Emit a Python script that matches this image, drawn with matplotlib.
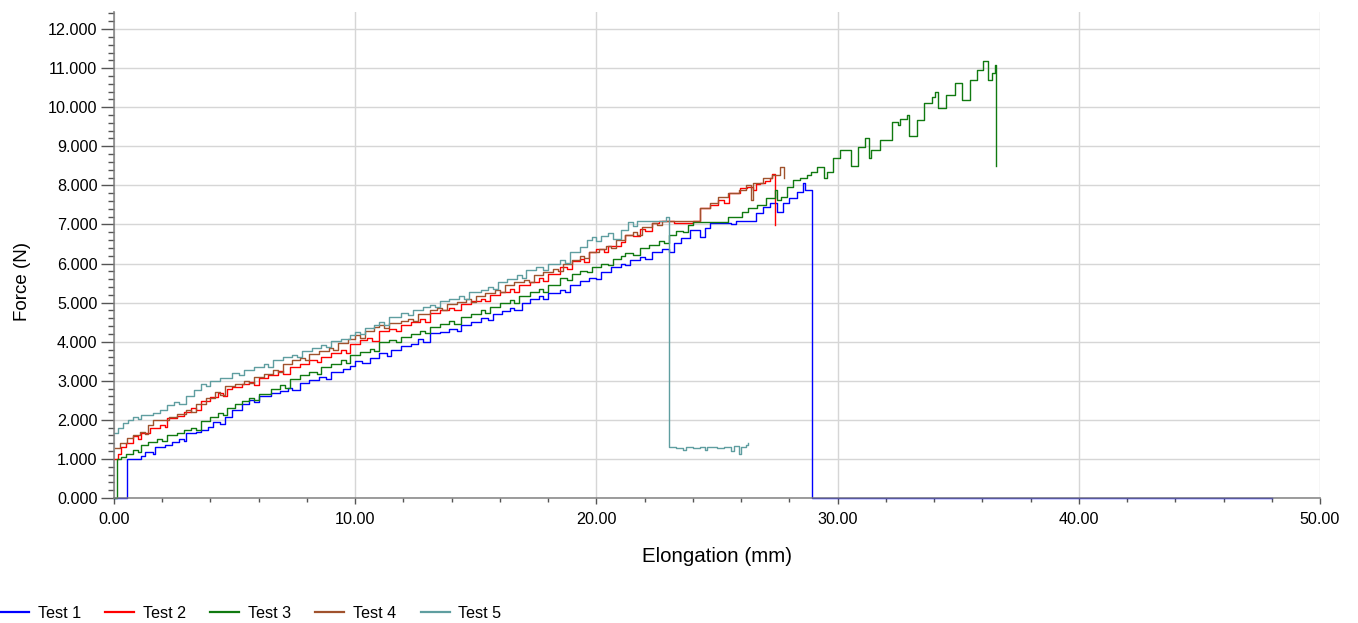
import matplotlib
matplotlib.use('Agg')
import matplotlib.pyplot as plt
from matplotlib.ticker import MultipleLocator, FuncFormatter

plt.rcParams['font.family'] = ['Liberation Sans', 'DejaVu Sans']

series_names = ['Test 1', 'Test 2', 'Test 3', 'Test 4', 'Test 5']
series_colors = ['#0000FF', '#FF0000', '#107a10', '#A0522D', '#5F9EA0']

# ---------------- Test 1 (blue) ----------------
test1_x = [0.0, 0.53, 1.1, 1.3, 1.6, 1.7, 2.1, 2.4, 2.7, 2.9, 3.0, 3.4, 3.6, 3.9, 4.1, 4.4,
           4.6, 4.9, 5.3, 5.6, 5.8, 6.0, 6.5, 6.9, 7.2, 7.4, 7.7, 8.1, 8.5, 8.8, 9.0, 9.5,
           9.8, 10.0, 10.3, 10.6, 11.0, 11.3, 11.5, 11.9, 12.3, 12.6, 12.8, 13.1, 13.5, 13.9,
           14.2, 14.4, 14.8, 15.2, 15.5, 15.7, 16.1, 16.4, 16.6, 16.9, 17.25, 17.6, 17.8, 18.0,
           18.5, 18.7, 18.9, 19.3, 19.7, 20.0, 20.2, 20.6, 21.0, 21.2, 21.4, 21.8, 22.0, 22.3,
           22.7, 23.0, 23.2, 23.5, 23.9, 24.3, 24.5, 24.7, 25.6, 25.8, 26.3, 26.6, 26.9, 27.2,
           27.5, 27.75, 28.0, 28.3, 28.55, 28.65, 28.93, 48.0]
test1_y = [0.0, 1.00, 1.08, 1.18, 1.12, 1.31, 1.36, 1.43, 1.52, 1.45, 1.66, 1.70, 1.74, 1.82, 1.95, 1.90,
           2.08, 2.25, 2.40, 2.52, 2.45, 2.60, 2.68, 2.75, 2.82, 2.76, 2.95, 3.02, 3.10, 3.05, 3.22, 3.30,
           3.38, 3.50, 3.45, 3.58, 3.70, 3.64, 3.78, 3.88, 3.95, 4.06, 3.98, 4.22, 4.26, 4.33,
           4.28, 4.42, 4.50, 4.60, 4.55, 4.70, 4.78, 4.86, 4.80, 5.00, 5.10, 5.16, 5.10, 5.24,
           5.32, 5.26, 5.45, 5.56, 5.64, 5.60, 5.78, 5.90, 6.00, 5.95, 6.08, 6.16, 6.12, 6.29,
           6.38, 6.30, 6.52, 6.65, 6.86, 6.68, 6.90, 7.05, 7.00, 7.08, 7.10, 7.29, 7.45, 7.55,
           7.32, 7.55, 7.68, 7.83, 8.06, 7.88, 0.0, 0.0]

# ---------------- Test 2 (red) ----------------
test2_x = [0.0, 0.15, 0.3, 0.5, 0.8, 1.0, 1.1, 1.5, 1.9, 2.1, 2.2, 2.6, 2.9, 3.2, 3.4, 3.6, 4.0,
           4.3, 4.5, 4.7, 4.9, 5.3, 5.6, 5.8, 6.0, 6.4, 6.8, 7.0, 7.3, 7.7, 8.1, 8.4, 8.6, 9.0,
           9.4, 9.6, 9.8, 10.2, 10.5, 10.7, 11.0, 11.4, 11.7, 11.9, 12.3, 12.7, 12.9, 13.1, 13.5,
           13.9, 14.1, 14.4, 14.8, 15.2, 15.4, 15.6, 16.0, 16.4, 16.6, 16.8, 17.25, 17.6, 17.8,
           18.0, 18.5, 18.8, 19.0, 19.3, 19.5, 19.7, 20.0, 20.3, 20.5, 21.0, 21.2, 21.5, 21.8,
           22.0, 22.3, 22.6, 23.2, 24.0, 24.3, 24.7, 25.06, 25.3, 25.5, 25.95, 26.24, 26.5, 26.6,
           26.78, 27.0, 27.2, 27.3, 27.4]
test2_y = [1.00, 1.12, 1.31, 1.40, 1.58, 1.52, 1.66, 1.80, 1.88, 1.82, 2.05, 2.10, 2.20, 2.30, 2.24, 2.48, 2.58,
           2.68, 2.60, 2.78, 2.84, 2.92, 2.98, 2.90, 3.08, 3.15, 3.24, 3.18, 3.36, 3.44, 3.52, 3.48, 3.62, 3.70,
           3.80, 3.72, 3.95, 4.04, 4.10, 4.02, 4.28, 4.32, 4.28, 4.42, 4.50, 4.58, 4.50, 4.74, 4.80,
           4.86, 4.80, 4.96, 5.04, 5.10, 5.04, 5.20, 5.28, 5.36, 5.28, 5.46, 5.52, 5.62, 5.55,
           5.74, 5.92, 5.86, 6.06, 6.12, 6.04, 6.30, 6.38, 6.30, 6.46, 6.56, 6.74, 6.70, 6.88,
           6.82, 7.04, 7.08, 7.05, 7.10, 7.42, 7.50, 7.62, 7.55, 7.80, 7.93, 7.96, 7.88, 8.04,
           8.06, 8.12, 8.19, 8.30, 6.99]

# ---------------- Test 3 (green) ----------------
test3_x = [0.0, 0.11, 0.3, 0.5, 0.8, 1.0, 1.1, 1.4, 1.8, 2.0, 2.2, 2.6, 2.9, 3.2, 3.4, 3.6, 4.0,
           4.3, 4.5, 4.7, 5.0, 5.3, 5.6, 5.8, 6.0, 6.5, 6.9, 7.1, 7.3, 7.7, 8.1, 8.4, 8.6, 9.0,
           9.4, 9.6, 9.8, 10.2, 10.6, 10.8, 11.0, 11.4, 11.7, 11.9, 12.3, 12.7, 12.9, 13.1, 13.5,
           13.9, 14.1, 14.4, 14.8, 15.2, 15.4, 15.6, 16.0, 16.4, 16.6, 16.8, 17.25, 17.6, 17.8,
           18.0, 18.5, 18.8, 19.0, 19.3, 19.6, 19.8, 20.2, 20.5, 20.7, 21.0, 21.2, 21.5, 21.8,
           22.2, 22.6, 22.8, 23.0, 23.3, 23.6, 23.8, 24.0, 25.45, 26.05, 26.3, 26.65, 27.05,
           27.4, 27.5, 27.65, 27.9, 28.15, 28.45, 28.75, 28.9, 29.15, 29.45, 29.55, 29.8, 30.1,
           30.55, 30.85, 31.13, 31.3, 31.4, 31.76, 32.25, 32.5, 32.6, 32.88, 32.96, 33.3, 33.6,
           33.9, 34.04, 34.16, 34.5, 34.87, 35.15, 35.5, 35.78, 36.03, 36.23, 36.4, 36.52, 36.57]
test3_y = [0.0, 1.00, 1.05, 1.12, 1.23, 1.18, 1.35, 1.43, 1.50, 1.46, 1.61, 1.66, 1.74, 1.80, 1.74, 1.98, 2.08,
           2.17, 2.12, 2.30, 2.40, 2.48, 2.56, 2.50, 2.66, 2.78, 2.88, 2.82, 3.04, 3.16, 3.22, 3.18, 3.34, 3.42,
           3.52, 3.46, 3.66, 3.74, 3.82, 3.76, 3.98, 4.04, 4.00, 4.12, 4.20, 4.28, 4.22, 4.38, 4.45,
           4.52, 4.46, 4.62, 4.70, 4.80, 4.74, 4.90, 4.98, 5.06, 5.00, 5.16, 5.26, 5.34, 5.28,
           5.46, 5.62, 5.58, 5.74, 5.82, 5.78, 5.92, 6.00, 5.95, 6.12, 6.20, 6.28, 6.22, 6.40,
           6.48, 6.58, 6.52, 6.74, 6.84, 6.80, 6.98, 7.07, 7.20, 7.33, 7.42, 7.50, 7.68,
           7.88, 7.62, 7.70, 7.96, 8.14, 8.19, 8.27, 8.35, 8.47, 8.20, 8.35, 8.70, 8.90,
           8.50, 8.98, 9.21, 8.70, 8.90, 9.16, 9.62, 9.55, 9.70, 9.80, 9.26, 9.67, 10.10,
           10.26, 10.39, 9.98, 10.31, 10.62, 10.18, 10.70, 10.95, 11.18, 10.70, 10.87, 11.08, 8.50]

# ---------------- Test 4 (brown) ----------------
test4_x = [0.05, 0.25, 0.55, 0.8, 1.08, 1.3, 1.4, 1.6, 2.3, 2.6, 3.0, 3.2, 3.4, 3.8, 4.2, 4.4,
           4.6, 5.0, 5.4, 5.6, 5.8, 6.2, 6.6, 6.8, 7.0, 7.4, 7.7, 7.9, 8.1, 8.5, 8.9, 9.1, 9.3,
           9.7, 10.0, 10.2, 10.4, 10.8, 11.0, 11.2, 11.4, 11.9, 12.2, 12.4, 12.6, 13.1, 13.4,
           13.6, 13.8, 14.2, 14.6, 14.8, 15.0, 15.4, 15.8, 16.0, 16.2, 16.6, 17.0, 17.2, 17.4,
           17.8, 18.2, 18.4, 18.6, 19.0, 19.3, 19.5, 19.7, 20.1, 20.4, 20.6, 20.8, 21.2, 21.5,
           21.7, 21.9, 22.3, 22.5, 22.7, 24.0, 24.3, 24.7, 25.06, 25.47, 25.9, 26.2, 26.4, 26.5,
           26.9, 27.3, 27.6, 27.78]
test4_y = [1.28, 1.40, 1.53, 1.60, 1.69, 1.64, 1.86, 2.00, 2.07, 2.14, 2.25, 2.20, 2.40, 2.56, 2.70, 2.64,
           2.86, 2.92, 3.00, 2.94, 3.10, 3.18, 3.28, 3.22, 3.42, 3.52, 3.58, 3.52, 3.68, 3.76, 3.84, 3.78, 3.96,
           4.06, 4.16, 4.10, 4.28, 4.38, 4.42, 4.36, 4.48, 4.52, 4.58, 4.52, 4.70, 4.80, 4.86,
           4.80, 4.96, 5.02, 5.08, 5.02, 5.18, 5.24, 5.32, 5.26, 5.44, 5.52, 5.58, 5.52, 5.70,
           5.78, 5.86, 5.80, 5.98, 6.08, 6.20, 6.14, 6.30, 6.38, 6.46, 6.40, 6.60, 6.72, 6.80,
           6.74, 6.94, 7.04, 6.98, 7.10, 7.10, 7.42, 7.55, 7.70, 7.80, 7.88, 8.00, 7.62, 8.06,
           8.19, 8.27, 8.47, 8.19]

# ---------------- Test 5 (teal) ----------------
test5_x = [0.0, 0.15, 0.39, 0.6, 0.8, 1.0, 1.1, 1.6, 1.9, 2.2, 2.5, 2.7, 3.0, 3.3, 3.6, 3.8, 4.0,
           4.4, 4.9, 5.2, 5.4, 5.8, 6.2, 6.4, 6.6, 7.0, 7.4, 7.6, 7.8, 8.2, 8.6, 8.8, 9.0, 9.4,
           9.8, 10.0, 10.2, 10.4, 10.8, 11.0, 11.2, 11.4, 11.9, 12.2, 12.4, 12.8, 13.1, 13.3,
           13.5, 13.9, 14.3, 14.5, 14.7, 15.2, 15.5, 15.7, 15.9, 16.3, 16.7, 16.9, 17.1, 17.5,
           17.8, 18.0, 18.5, 18.7, 18.9, 19.3, 19.6, 19.8, 20.0, 20.2, 20.5, 20.7, 21.0, 21.3,
           21.5, 21.7, 22.9, 23.02, 23.3, 23.6, 23.7, 24.0, 24.3, 24.5, 24.6, 25.0, 25.3, 25.6,
           25.7, 25.9, 26.0, 26.2, 26.3]
test5_y = [1.66, 1.80, 1.92, 2.00, 2.07, 2.02, 2.12, 2.17, 2.26, 2.38, 2.46, 2.40, 2.62, 2.76, 2.92, 2.86, 3.00,
           3.08, 3.20, 3.14, 3.28, 3.36, 3.42, 3.36, 3.52, 3.60, 3.66, 3.60, 3.76, 3.84, 3.92, 3.86, 4.02, 4.08,
           4.18, 4.26, 4.20, 4.34, 4.44, 4.50, 4.44, 4.62, 4.74, 4.68, 4.82, 4.88, 4.94, 4.88,
           5.04, 5.10, 5.16, 5.10, 5.26, 5.32, 5.40, 5.34, 5.52, 5.60, 5.70, 5.62, 5.84, 5.90,
           5.84, 6.00, 6.08, 6.02, 6.30, 6.42, 6.60, 6.68, 6.58, 6.70, 6.78, 6.64, 6.86, 7.06,
           6.95, 7.10, 7.19, 1.30, 1.28, 1.22, 1.30, 1.27, 1.31, 1.22, 1.30, 1.28, 1.31, 1.20,
           1.34, 1.12, 1.30, 1.36, 1.40]

series_x = [test1_x, test2_x, test3_x, test4_x, test5_x]
series_y = [test1_y, test2_y, test3_y, test4_y, test5_y]

x_limits = (0, 50)
y_limits = (0, 12.45)

fig = plt.figure(figsize=(13.58, 6.23), dpi=100)
ax = fig.add_axes([114 / 1358, 125 / 623, 1206 / 1358, (498 - 11.5) / 623])

for xs, ys, name, col in zip(series_x, series_y, series_names, series_colors):
    ax.plot(xs, ys, drawstyle='steps-post', color=col, lw=1.0, label=name,
            zorder=2, clip_on=False)

ax.set_xlim(*x_limits)
ax.set_ylim(*y_limits)
ax.xaxis.set_major_locator(MultipleLocator(10))
ax.xaxis.set_minor_locator(MultipleLocator(2))
ax.yaxis.set_major_locator(MultipleLocator(1))
ax.yaxis.set_minor_locator(MultipleLocator(0.2))
ax.xaxis.set_major_formatter(FuncFormatter(lambda v, p: f'{v:.2f}'))
ax.yaxis.set_major_formatter(FuncFormatter(lambda v, p: f'{v:.3f}'))

ax.grid(which='major', color='#d6d6d6', lw=1.0)
ax.set_axisbelow(True)
for s in ['top', 'right']:
    ax.spines[s].set_visible(False)
for s in ['left', 'bottom']:
    ax.spines[s].set_color('#7a7a7a')
    ax.spines[s].set_linewidth(1.3)
    ax.spines[s].set_alpha(0.8)
    ax.spines[s].set_zorder(2.5)

ax.tick_params(axis='y', which='major', length=9.4, width=1.0, color='#555555', pad=2.5, labelsize=11.6)
ax.tick_params(axis='y', which='minor', length=4.3, width=1.0, color='#555555')
ax.tick_params(axis='x', which='major', length=4.5, width=1.0, color='#555555', pad=5.5, labelsize=11.6)
ax.tick_params(axis='x', which='minor', length=2.6, width=1.0, color='#555555')

ax.set_xlabel('Elongation (mm)', fontsize=14.8)
ax.set_ylabel('Force (N)', fontsize=13.5)
ax.xaxis.set_label_coords(0.5, -0.100)
ax.yaxis.set_label_coords(-0.069, 0.444)

handles = [plt.Line2D([], [], color=c, lw=1.6) for c in series_colors]
fig.legend(handles, series_names, loc='center left', bbox_to_anchor=(0.0, 10 / 623),
           ncol=5, frameon=False, fontsize=11.6, borderpad=0, borderaxespad=0,
           handlelength=1.8, handletextpad=0.55, columnspacing=1.5)

fig.savefig('out.png', dpi=100)
